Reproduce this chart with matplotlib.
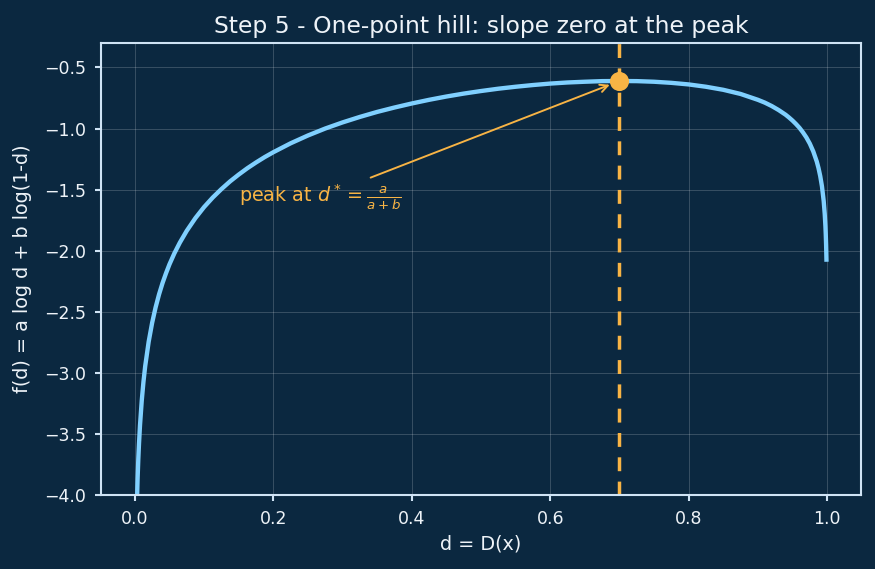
import matplotlib
matplotlib.use("Agg")
import matplotlib.pyplot as plt

# values
d_vals = [0.001, 0.0015, 0.002, 0.0025, 0.003, 0.004, 0.005, 0.006, 0.0075, 0.01,
          0.0125, 0.015, 0.02, 0.025, 0.03, 0.035, 0.04, 0.045, 0.05, 0.057,
          0.065, 0.075, 0.0875, 0.1, 0.1125, 0.125, 0.1375, 0.15, 0.1625, 0.175,
          0.1875, 0.2, 0.225, 0.25, 0.275, 0.3, 0.325, 0.35, 0.375, 0.4,
          0.425, 0.45, 0.475, 0.5, 0.525, 0.55, 0.575, 0.6, 0.625, 0.65,
          0.675, 0.7, 0.725, 0.75, 0.775, 0.8, 0.825, 0.85, 0.875, 0.9,
          0.91, 0.92, 0.93, 0.94, 0.945, 0.95, 0.955, 0.96, 0.965, 0.97,
          0.975, 0.98, 0.985, 0.9875, 0.99, 0.9925, 0.995, 0.9965, 0.9975, 0.998,
          0.9985, 0.999]
f_vals = [-4.836, -4.552, -4.351, -4.195, -4.067, -3.866, -3.710, -3.583, -3.427, -3.227,
          -3.071, -2.944, -2.745, -2.590, -2.464, -2.357, -2.265, -2.185, -2.112, -2.023,
          -1.934, -1.837, -1.733, -1.643, -1.565, -1.496, -1.433, -1.377, -1.325, -1.278,
          -1.234, -1.194, -1.121, -1.057, -1.000, -0.950, -0.905, -0.864, -0.828, -0.795,
          -0.765, -0.738, -0.714, -0.693, -0.674, -0.658, -0.644, -0.632, -0.623, -0.617,
          -0.612, -0.611, -0.612, -0.617, -0.626, -0.639, -0.658, -0.683, -0.717, -0.765,
          -0.788, -0.816, -0.849, -0.887, -0.910, -0.935, -0.963, -0.994, -1.031, -1.073,
          -1.124, -1.188, -1.270, -1.323, -1.389, -1.473, -1.593, -1.699, -1.799, -1.866,
          -1.952, -2.073]
d_peak = 0.7
f_peak = -0.611

bg = '#0b2840'
curve_col = '#80d0ff'
orange = '#f8b445'
fg = '#eef3f8'
spine_col = '#cfe3f5'

fig = plt.figure(figsize=(7, 4.552), dpi=125, facecolor=bg)
ax = fig.add_subplot(1, 1, 1)
ax.set_facecolor(bg)
plt.subplots_adjust(left=0.1154, right=0.984, top=0.9244, bottom=0.130)

ax.plot(d_vals, f_vals, color=curve_col, lw=2.5)
ax.axvline(d_peak, color=orange, lw=2, ls='--', dashes=(4, 3))
ax.plot([d_peak], [f_peak], 'o', color=orange, ms=10, zorder=5)

ax.annotate(r'peak at $d^* = \frac{a}{a+b}$', xy=(d_peak, f_peak),
            xytext=(0.15, -1.6), color=orange, fontsize=11,
            arrowprops=dict(arrowstyle='->', color=orange, lw=1.1, shrinkB=6))

ax.set_ylim(-4.0, -0.3)
ax.set_xticks([0.0, 0.2, 0.4, 0.6, 0.8, 1.0])
ax.set_yticks([-4.0, -3.5, -3.0, -2.5, -2.0, -1.5, -1.0, -0.5])
ax.grid(True, color='white', alpha=0.18, lw=0.6)
ax.set_axisbelow(True)

for s in ax.spines.values():
    s.set_color(spine_col)
    s.set_linewidth(1.2)
ax.tick_params(colors=spine_col, labelcolor=fg, labelsize=10, length=3.5, width=1.2, pad=5)

ax.set_title('Step 5 - One-point hill: slope zero at the peak', color=fg, fontsize=13.5)
ax.set_xlabel('d = D(x)', color=fg, fontsize=11)
ax.set_ylabel('f(d) = a log d + b log(1-d)', color=fg, fontsize=11, labelpad=7)

plt.savefig('out.png', facecolor=bg)
